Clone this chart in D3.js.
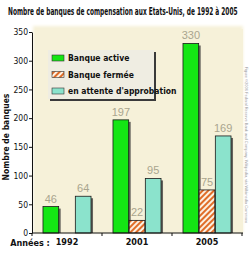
<!DOCTYPE html>
<html lang="fr">
<head>
  <meta charset="UTF-8">
  <title>Banques de compensation</title>
  <script src="https://d3js.org/d3.v7.min.js"></script>
  <style>
    body { margin: 0; background: #fff; }
    .narrow { font-family: "Liberation Sans Narrow", "DejaVu Sans Condensed", Arial, sans-serif; }
  </style>
</head>
<body>
<div id="chart"></div>
<script>
// data
var years = ["1992", "2001", "2005"];
var series = ["Banque active", "Banque fermée", "en attente d'approbation"];
var activeBanks = [46, 197, 330];
var closedBanks = [null, 22, 75];
var pendingBanks = [64, 95, 169];
var yTicks = [0, 50, 100, 150, 200, 250, 300, 350];

var width = 250, height = 254;
var values = [activeBanks, closedBanks, pendingBanks];

var svg = d3.select("#chart").append("svg")
  .attr("width", width)
  .attr("height", height);

// hatch pattern for closed banks
var defs = svg.append("defs");
var pat = defs.append("pattern")
  .attr("id", "hatch")
  .attr("patternUnits", "userSpaceOnUse")
  .attr("width", 4).attr("height", 4)
  .attr("patternTransform", "rotate(45)");
pat.append("rect").attr("width", 4).attr("height", 4).attr("fill", "#fbf1e2");
pat.append("rect").attr("width", 2).attr("height", 4).attr("fill", "#e06d28");

var blur = defs.append("filter").attr("id", "soft").attr("x", "-5%").attr("y", "-5%").attr("width", "110%").attr("height", "110%");
blur.append("feGaussianBlur").attr("stdDeviation", 1.5);

// scales
var y = d3.scaleLinear().domain([0, 350]).range([233, 32]);
var x0 = d3.scaleBand().domain(years).range([32, 242]).paddingInner(0.3).paddingOuter(0.15);
var x1 = d3.scaleBand().domain(series).range([0, x0.bandwidth()]).padding(0.03);
var colors = ["#14e614", "url(#hatch)", "#8be3cc"];

// plot background
svg.append("rect")
  .attr("x", 33).attr("y", 26)
  .attr("width", 210).attr("height", 207)
  .attr("fill", "#f6f1d9")
  .attr("filter", "url(#soft)");
svg.append("rect")
  .attr("x", 35).attr("y", 29)
  .attr("width", 208).attr("height", 204)
  .attr("fill", "#f6f1d9");

// title, squeezed horizontally to the width of the reference
var title = svg.append("text")
  .attr("class", "narrow")
  .attr("font-weight", "bold")
  .attr("font-size", 10.5)
  .attr("fill", "#111")
  .text("Nombre de banques de compensation aux Etats-Unis, de 1992 à 2005");
var tlen = title.node().getComputedTextLength();
var sx = Math.min(1, 230 / tlen);
title.attr("transform", "translate(8,15) scale(" + sx + ",1)");

// legend
var lg = svg.append("g");
lg.append("rect").attr("x", 50).attr("y", 52).attr("width", 106).attr("height", 49).attr("fill", "#3a3a3a");
lg.append("rect").attr("x", 48).attr("y", 50).attr("width", 106).attr("height", 49).attr("fill", "#efede2");
series.forEach(function(s, i) {
  var ly = 55 + i * 16.5;
  lg.append("rect")
    .attr("x", 52).attr("y", ly)
    .attr("width", 12).attr("height", 6)
    .attr("fill", colors[i])
    .attr("stroke", "#333").attr("stroke-width", 0.6);
  lg.append("text")
    .attr("class", "narrow")
    .attr("x", 68).attr("y", ly + 6)
    .attr("font-size", 8.5)
    .attr("font-weight", "bold")
    .attr("fill", "#111")
    .text(s);
});

// bars
var groups = svg.selectAll(".grp")
  .data(years)
  .enter().append("g")
  .attr("transform", function(d) { return "translate(" + x0(d) + ",0)"; });

groups.each(function(yr, gi) {
  var g = d3.select(this);
  series.forEach(function(s, si) {
    var v = values[si][gi];
    if (v === null) return;
    var bx = x1(s), bw = x1.bandwidth();
    g.append("rect")
      .attr("x", bx + 2).attr("y", y(v) + 2)
      .attr("width", bw).attr("height", y(0) - y(v) - 2)
      .attr("fill", "#333").attr("opacity", 0.75);
    g.append("rect")
      .attr("x", bx).attr("y", y(v))
      .attr("width", bw).attr("height", y(0) - y(v))
      .attr("fill", colors[si])
      .attr("stroke", "#1a1a1a").attr("stroke-width", 0.8);
    g.append("text")
      .attr("x", bx + bw / 2).attr("y", y(v) - 4)
      .attr("text-anchor", "middle")
      .attr("font-family", "Arial, sans-serif")
      .attr("font-size", 11)
      .attr("fill", "#a9a58e")
      .text(v);
  });
});

// y axis
var yAxis = svg.append("g")
  .attr("transform", "translate(32,0)")
  .call(d3.axisLeft(y).tickValues(yTicks).tickSize(3).tickSizeOuter(0));
yAxis.select(".domain").attr("stroke", "#111");
yAxis.selectAll(".tick line").attr("stroke", "#111");
yAxis.selectAll("text")
  .attr("class", "narrow")
  .attr("font-size", 8.5)
  .attr("fill", "#111")
  .attr("x", -4);

// x axis line and ticks at group boundaries
var xAxis = svg.append("g")
  .attr("transform", "translate(0," + y(0) + ")")
  .call(d3.axisBottom(x0).tickSize(0).tickSizeOuter(0).tickPadding(6));
xAxis.select(".domain").attr("stroke", "#111").attr("d", "M32,0H243");
xAxis.selectAll("text")
  .attr("class", "narrow")
  .attr("font-size", 9)
  .attr("font-weight", "bold")
  .attr("fill", "#111");
var step = x0.step();
years.concat(["end"]).forEach(function(d, i) {
  var tx = 32 + i * step;
  xAxis.append("line").attr("x1", tx).attr("x2", tx).attr("y1", 0).attr("y2", 3).attr("stroke", "#111");
});
xAxis.append("text")
  .attr("class", "narrow")
  .attr("x", 30).attr("y", 13)
  .attr("font-size", 9)
  .attr("font-weight", "bold")
  .attr("fill", "#111")
  .text("Années :");

// y axis title
svg.append("text")
  .attr("class", "narrow")
  .attr("transform", "translate(9,137) rotate(-90)")
  .attr("text-anchor", "middle")
  .attr("font-size", 8.5)
  .attr("font-weight", "bold")
  .attr("fill", "#111")
  .text("Nombre de banques");

// credit line along the right edge
svg.append("text")
  .attr("transform", "translate(245,145) rotate(90)")
  .attr("text-anchor", "middle")
  .attr("font-family", "Arial, sans-serif")
  .attr("font-size", 4)
  .attr("fill", "#9a9a9a")
  .text("Figure ©2006 Federal Reserve Bank and Company, Wikipedia, via Wikimedia Commons");
</script>
</body>
</html>
